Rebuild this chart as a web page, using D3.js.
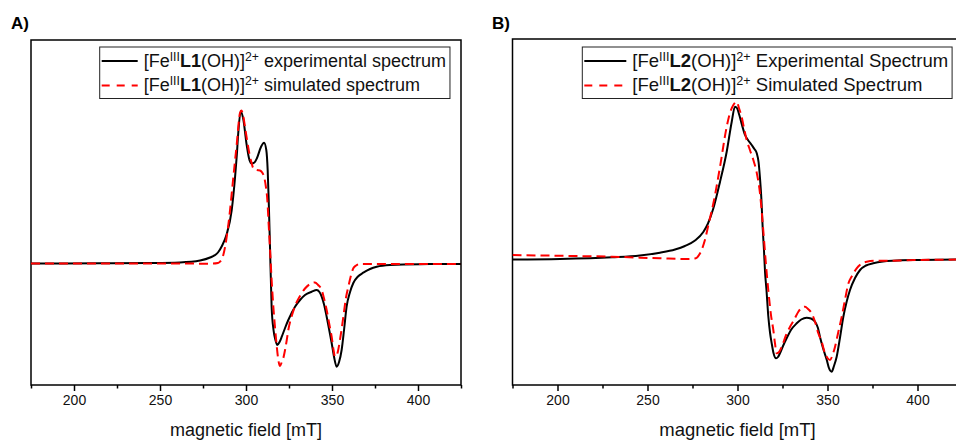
<!DOCTYPE html>
<html>
<head>
<meta charset="utf-8">
<script src="https://cdn.jsdelivr.net/npm/d3@7"></script>
<style>
  body { margin: 0; background: #fff; }
  svg { display: block; font-family: "Liberation Sans", Arial, sans-serif; }
</style>
</head>
<body>
<div id="chart"></div>
<script>
// field [mT], intensity [a.u.]
let expA = [[175,0],[215.1,0.002],[244.2,0.005],[261.6,0.011],[273.3,0.03],[279.1,0.06],[283.7,0.11],
  [286.0,0.175],[288.8,0.295],[291.7,0.535],[293.6,0.855],[294.6,1.07],[295.5,1.305],[296.9,1.52],[298.4,1.445],
  [300.4,1.185],[302.0,1.035],[303.3,1.0],[304.9,1.01],[306.4,1.055],[308.7,1.165],[310.5,1.208],
  [311.8,1.135],[312.6,0.935],[313.2,0.635],[314.0,0.135],[314.9,-0.432],[316.0,-0.665],[317.1,-0.765],
  [318.2,-0.815],[319.5,-0.785],[320.8,-0.732],[322.7,-0.645],[324.6,-0.565],[328.5,-0.432],[331.4,-0.365],
  [334.3,-0.315],[338.2,-0.282],[341.1,-0.265],[342.7,-0.285],[344.0,-0.332],[345.3,-0.405],[346.9,-0.532],
  [348.5,-0.675],[349.8,-0.795],[351.2,-0.935],[352.7,-1.032],[354.1,-0.985],[355.6,-0.865],[357.0,-0.665],
  [358.5,-0.432],[360.5,-0.285],[362.4,-0.195],[365.1,-0.13],[368.2,-0.092],[372.1,-0.055],[376.0,-0.032],
  [383.7,-0.015],[401.2,-0.007],[425,-0.005]];

let simA = [[175,0],[215.1,0],[261.6,0],[279.1,-0.002],[283.7,0.005],[284.9,0.018],[286.8,0.085],
  [288.8,0.268],[290.3,0.468],[292.3,0.805],[294.6,1.19],[296.5,1.505],[297.3,1.53],[298.3,1.485],
  [299.4,1.368],[300.6,1.235],[301.9,1.105],[303.1,1.015],[304.2,0.955],[306.1,0.935],[308.1,0.93],
  [309.6,0.905],[310.5,0.868],[311.5,0.775],[312.4,0.635],[313.2,0.385],[314.0,0.135],[314.9,-0.165],
  [315.9,-0.432],[316.9,-0.645],[317.9,-0.832],[318.8,-0.965],[319.8,-1.025],[320.8,-0.985],[321.7,-0.945],
  [322.7,-0.865],[323.7,-0.765],[324.6,-0.665],[326.6,-0.525],[328.5,-0.425],[331.4,-0.325],[334.3,-0.25],
  [337.2,-0.205],[340.1,-0.19],[341.9,-0.215],[344.0,-0.265],[345.3,-0.345],[346.9,-0.465],[348.3,-0.595],
  [349.8,-0.732],[350.9,-0.865],[351.7,-0.932],[352.6,-0.925],[353.6,-0.865],[354.9,-0.735],[356.6,-0.532],
  [358.1,-0.345],[359.5,-0.232],[360.8,-0.135],[362.4,-0.048],[364.0,-0.02],[366.3,-0.005],[383.7,-0.005],
  [425,-0.005]];

let expB = [[175,0],[201.4,0.005],[230.3,0.022],[245.8,0.04],[256.9,0.068],[265.3,0.10],[270.8,0.135],
  [276.4,0.19],[281.0,0.275],[283.6,0.36],[286.6,0.512],[290.3,0.778],[294.0,1.078],
  [296.8,1.378],[298.6,1.528],[299.7,1.515],[301.0,1.445],[302.5,1.345],[304.2,1.245],[305.8,1.195],
  [307.9,1.145],[309.4,1.105],[310.7,1.062],[311.7,0.975],[312.5,0.812],[313.3,0.595],[314.0,0.312],
  [314.7,0.095],[315.3,-0.125],[316.1,-0.305],[317.1,-0.565],[318.1,-0.735],[319.0,-0.838],[320.0,-0.935],
  [321.4,-0.988],[322.5,-0.975],[323.6,-0.938],[325.3,-0.865],[327.3,-0.788],[329.7,-0.705],[332.9,-0.638],
  [335.4,-0.6],[338.4,-0.582],[340.8,-0.59],[343.1,-0.622],[344.7,-0.685],[345.8,-0.772],[347.5,-0.885],
  [349.6,-1.005],[350.8,-1.085],[352.3,-1.122],[353.6,-1.065],[355.1,-0.972],[357.0,-0.775],[358.8,-0.572],
  [360.6,-0.425],[362.5,-0.305],[365.3,-0.185],[368.1,-0.105],[371.4,-0.06],[375.4,-0.038],[380.8,-0.02],
  [386.6,-0.012],[401.4,-0.005],[425,0]];

let simB = [[175,0.045],[201.4,0.037],[230.3,0.028],[256.9,0.012],[272.5,0.005],[276.4,0.01],[279.2,0.062],
  [281.9,0.195],[284.2,0.375],[286.6,0.562],[290.3,0.928],[294.0,1.328],[295.8,1.465],[297.7,1.545],
  [299.6,1.578],[300.8,1.515],[302.3,1.428],[303.6,1.315],[305.1,1.195],[306.9,1.095],[308.8,0.995],
  [310.6,0.875],[312.5,0.662],[314.3,0.295],[315.7,-0.025],[317.1,-0.305],[318.6,-0.555],[319.9,-0.705],
  [320.8,-0.835],[321.8,-0.938],[323.1,-0.925],[324.6,-0.872],[327.0,-0.755],[329.2,-0.672],[331.4,-0.605],
  [333.8,-0.522],[335.6,-0.485],[337.5,-0.472],[339.2,-0.495],[341.2,-0.538],[343.1,-0.625],[344.9,-0.738],
  [346.8,-0.825],[348.6,-0.938],[350.0,-0.985],[351.4,-1.005],[352.8,-0.955],[354.2,-0.872],[356.0,-0.725],
  [357.9,-0.572],[359.7,-0.405],[361.6,-0.24],[363.6,-0.165],[366.2,-0.088],[368.6,-0.045],[371.8,-0.022],
  [376.9,-0.012],[382.9,-0.012],[401.4,-0.005],[425,0]];

let fieldDomain = [175, 425];
let majorTicks = [200, 250, 300, 350, 400];
let minorTicks = [175, 225, 275, 325, 375, 425];
let xTitle = "magnetic field [mT]";

let legendA = [["L1", " experimental spectrum"], ["L1", " simulated spectrum"]];
let legendB = [["L2", " Experimental Spectrum"], ["L2", " Simulated Spectrum"]];

let panels = [
  {label: "A)", labelX: 11, left: 31, right: 461, top: 40, bottom: 385, yDomain: [-1.215, 2.235],
   exp: expA, sim: simA, legend: legendA, legX: 99.7, legSample: 36, fs: 18},
  {label: "B)", labelX: 492, left: 512.5, right: 962.5, top: 39, bottom: 385, yDomain: [-1.255, 2.205],
   exp: expB, sim: simB, legend: legendB, legX: 582.3, legSample: 42, fs: 18.5}
];

let svg = d3.select("#chart").append("svg")
  .attr("width", 956)
  .attr("height", 440);

svg.append("rect").attr("width", 956).attr("height", 440).attr("fill", "#fff");

panels.forEach(function(p, i) {
  let x = d3.scaleLinear().domain(fieldDomain).range([p.left, p.right]);
  let y = d3.scaleLinear().domain(p.yDomain).range([p.bottom, p.top]);

  let g = svg.append("g");

  // panel letter
  g.append("text")
    .attr("x", p.labelX).attr("y", 29)
    .attr("font-size", 17).attr("font-weight", "bold")
    .text(p.label);

  // frame
  g.append("rect")
    .attr("x", p.left).attr("y", p.top)
    .attr("width", p.right - p.left).attr("height", p.bottom - p.top)
    .attr("fill", "none").attr("stroke", "#000").attr("stroke-width", 1.5);

  // bottom axis, major + minor ticks
  let ax = g.append("g")
    .attr("transform", "translate(0," + p.bottom + ")")
    .call(d3.axisBottom(x).tickValues(majorTicks).tickSize(6).tickPadding(4).tickFormat(d3.format("d")));
  ax.select(".domain").remove();
  ax.selectAll(".tick line").attr("stroke-width", 1.5);
  ax.selectAll(".tick text")
    .attr("font-size", 14).attr("font-family", "Liberation Sans, Arial, sans-serif").attr("fill", "#111");

  let minor = g.append("g")
    .attr("transform", "translate(0," + p.bottom + ")")
    .call(d3.axisBottom(x).tickValues(minorTicks).tickSize(3.5).tickFormat(""));
  minor.select(".domain").remove();
  minor.selectAll(".tick line").attr("stroke-width", 1.5);

  g.append("text")
    .attr("x", (x(fieldDomain[0]) + x(fieldDomain[1])) / 2)
    .attr("y", 436)
    .attr("text-anchor", "middle")
    .attr("font-size", p.fs)
    .attr("fill", "#111")
    .text(xTitle);

  // curves
  let clipId = "clip" + i;
  svg.append("clipPath").attr("id", clipId)
    .append("rect").attr("x", p.left).attr("y", p.top)
    .attr("width", p.right - p.left).attr("height", p.bottom - p.top);

  let line = d3.line()
    .x(function(d) { return x(d[0]); })
    .y(function(d) { return y(d[1]); })
    .curve(d3.curveMonotoneX);

  let curves = g.append("g").attr("clip-path", "url(#" + clipId + ")");
  curves.append("path")
    .datum(p.exp)
    .attr("d", line)
    .attr("fill", "none").attr("stroke", "#000").attr("stroke-width", 2)
    .attr("stroke-linejoin", "round");
  curves.append("path")
    .datum(p.sim)
    .attr("d", line)
    .attr("fill", "none").attr("stroke", "#ff0000").attr("stroke-width", 2)
    .attr("stroke-dasharray", "9,5");

  // legend
  let leg = g.append("g");
  let rowY = [66.5, 91];
  let txtX = p.legX + p.legSample + 8;
  let maxW = 0;
  p.legend.forEach(function(e, k) {
    leg.append("line")
      .attr("x1", p.legX + 2).attr("x2", p.legX + 2 + p.legSample)
      .attr("y1", rowY[k] - 5.5).attr("y2", rowY[k] - 5.5)
      .attr("stroke", k === 0 ? "#000" : "#ff0000").attr("stroke-width", 2)
      .attr("stroke-dasharray", k === 0 ? null : "8,7");
    let t = leg.append("text")
      .attr("x", txtX).attr("y", rowY[k])
      .attr("font-size", p.fs).attr("fill", "#111");
    t.append("tspan").text("[Fe");
    t.append("tspan").attr("dy", -6).attr("font-size", p.fs * 0.68).text("III");
    t.append("tspan").attr("dy", 6).attr("font-weight", "bold").text(e[0]);
    t.append("tspan").text("(OH)]");
    t.append("tspan").attr("dy", -6).attr("font-size", p.fs * 0.68).text("2+");
    t.append("tspan").attr("dy", 6).text(e[1]);
    maxW = Math.max(maxW, t.node().getComputedTextLength());
  });
  leg.insert("rect", ":first-child")
    .attr("x", p.legX).attr("y", 47)
    .attr("width", txtX - p.legX + maxW + 4).attr("height", 51.5)
    .attr("fill", "#fff").attr("stroke", "#222").attr("stroke-width", 1);
});
</script>
</body>
</html>
